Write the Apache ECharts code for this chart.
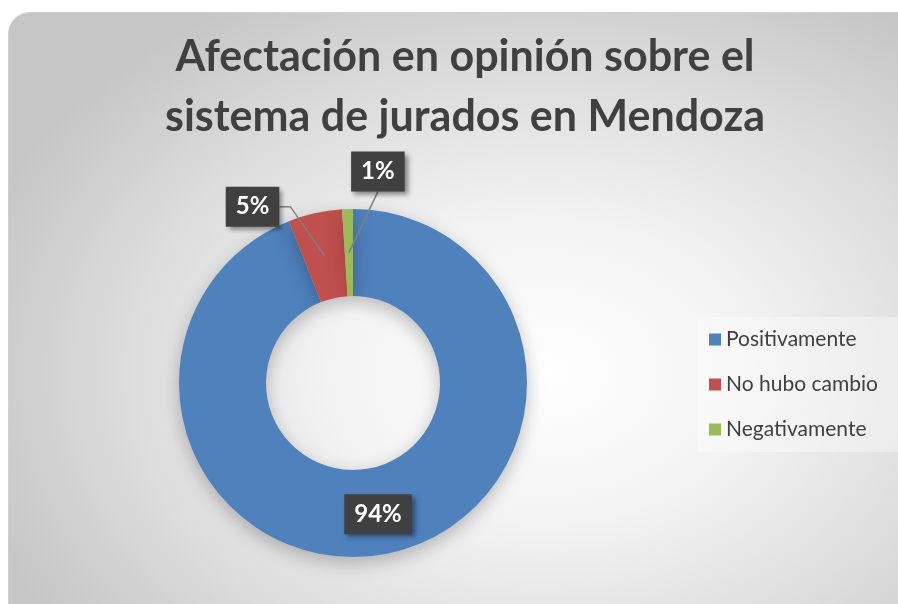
<!DOCTYPE html>
<html>
<head>
<meta charset="utf-8">
<script src="https://cdn.jsdelivr.net/npm/echarts@6/dist/echarts.min.js"></script>
<style>
  html, body { margin: 0; padding: 0; background: #fff; overflow: hidden; }
  .card {
    position: absolute; left: 8px; top: 12px; width: 920px; height: 620px;
    border-radius: 22px; border: 1px solid #d0d0d0;
    background: radial-gradient(ellipse 65% 70% at 58% 58%, #ffffff 0%, #f3f3f3 35%, #dcdcdc 70%, #c6c6c6 100%);
  }
  #chart { position: absolute; left: 0; top: 0; width: 898px; height: 604px; }
</style>
</head>
<body>
<div class="card"></div>
<div id="chart"></div>
<script>
  // datos del gráfico
  const titleLines = ['Afectación en opinión sobre el', 'sistema de jurados en Mendoza']
  const categories = ['Positivamente', 'No hubo cambio', 'Negativamente']
  const values = [94, 5, 1]
  const colors = ['#4f81bd', '#c0504d', '#9bbb59']

  // geometría del anillo
  const center = [353, 383]
  const radius = [87, 174]
  // desplazamiento de las etiquetas externas respecto del punto de anclaje (dentro de la porción)
  const labelOffset = { 1: [-72, -49], 2: [29, -81] }

  const total = values.reduce((a, b) => a + b, 0)
  function anchorOf (idx) {
    let before = 0
    for (let i = 0; i < idx; i++) before += values[i]
    const mid = (before + values[idx] / 2) / total * Math.PI * 2 // horario desde arriba
    const r = (radius[0] + radius[1]) / 2
    return [center[0] + r * Math.sin(mid), center[1] - r * Math.cos(mid)]
  }

  const myChart = echarts.init(document.getElementById('chart'))

  const labelStyle = {
    show: true,
    position: 'outside',
    color: '#fff',
    fontFamily: 'Lato',
    fontWeight: 'bold',
    fontSize: 24,
    backgroundColor: '#404040',
    padding: [9, 10, 7, 10],
    shadowColor: 'rgba(0,0,0,0.45)',
    shadowBlur: 5,
    shadowOffsetX: 3,
    shadowOffsetY: 3,
    formatter: '{d}%'
  }

  const option = {
    title: {
      text: titleLines.join('\n'),
      left: 460,
      textAlign: 'center',
      top: 22,
      textStyle: {
        fontFamily: 'Lato',
        fontWeight: 'bold',
        fontSize: 43,
        lineHeight: 60,
        color: '#404040'
      }
    },
    legend: {
      orient: 'vertical',
      left: 697,
      top: 317,
      padding: [12, 40, 12, 12],
      backgroundColor: 'rgba(255,255,255,0.35)',
      icon: 'rect',
      itemWidth: 12,
      itemHeight: 12,
      itemGap: 24,
      data: categories,
      textStyle: { fontFamily: 'Lato', fontSize: 21, color: '#404040' }
    },
    series: [{
      // anillo con colores
      type: 'pie',
      center: center,
      radius: radius,
      startAngle: 90,
      clockwise: true,
      itemStyle: {
        shadowColor: 'rgba(0,0,0,0.25)',
        shadowBlur: 18,
        shadowOffsetY: 6
      },
      label: { show: false },
      labelLine: { show: false },
      emphasis: { disabled: true },
      data: categories.map((name, i) => ({ name: name, value: values[i], itemStyle: { color: colors[i] } }))
    }, {
      // capa transparente encima, solo para etiquetas y líneas guía
      type: 'pie',
      z: 5,
      silent: true,
      center: center,
      radius: radius,
      startAngle: 90,
      clockwise: true,
      avoidLabelOverlap: false,
      itemStyle: { color: 'rgba(0,0,0,0)' },
      label: labelStyle,
      labelLine: {
        show: true,
        length: 12,
        length2: 14,
        lineStyle: { color: '#7f7f7f', width: 1.5 }
      },
      labelLayout: function (params) {
        const off = labelOffset[params.dataIndex]
        if (!off) return {}
        const a = anchorOf(params.dataIndex)
        const x = a[0] + off[0]
        const y = a[1] + off[1]
        const w = params.labelRect.width
        const h = params.labelRect.height
        let pts
        if (off[0] < 0) {
          const ex = x + w / 2
          pts = [[ex, y], [ex + 11, y], a]
        } else {
          pts = [[x, y + h / 2], [x, y + h / 2], a]
        }
        return { x: x, y: y, align: 'center', verticalAlign: 'middle', labelLinePoints: pts }
      },
      emphasis: { disabled: true },
      legendHoverLink: false,
      data: categories.map((name, i) => {
        const item = { name: name, value: values[i] }
        if (i === 0) {
          item.label = { position: 'inside' }
          item.labelLine = { show: false }
        }
        return item
      })
    }]
  }

  myChart.setOption(option)
</script>
</body>
</html>
